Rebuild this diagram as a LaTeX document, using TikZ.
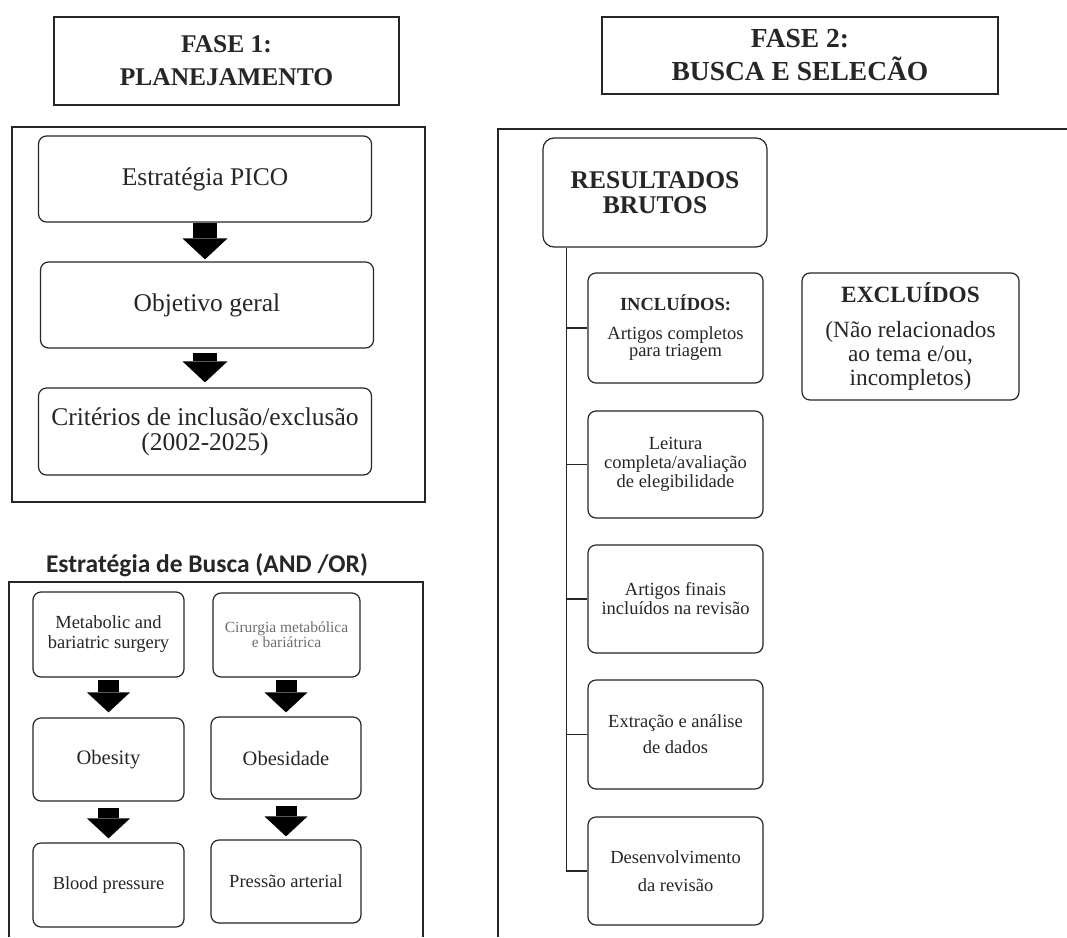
\documentclass[tikz,border=0pt]{standalone}
\usepackage{fontspec}
\setmainfont{Liberation Serif}
\newfontfamily\calibrifont{Carlito}
\usetikzlibrary{arrows.meta, calc}
\definecolor{inkline}{HTML}{262626}
\definecolor{inkgrey}{HTML}{6E6E6E}
\newcommand{\fs}[2]{\fontsize{#1}{#2}\selectfont}

\begin{document}
\begin{tikzpicture}[x=1pt, y=-1pt, text=inkline,
  phase/.style={draw=inkline, line width=1.3pt, align=center},
  frame/.style={draw=inkline, line width=1.3pt},
  stepbox/.style={draw=inkline, line width=1.2pt, rounded corners=8pt,
    align=center, fill=white},
  bigarrow/.style={draw=black, line width=24pt,
    -{Triangle[length=21pt, width=45pt, line width=0pt]}},
  smallarrow/.style={draw=black, line width=21pt,
    -{Triangle[length=20pt, width=43pt, line width=0pt]}},
  link/.style={draw=inkline, line width=1.3pt}]
  \path[use as bounding box, fill=white] (0,0) rectangle (1067,937);

  % phase headers
  \node[phase, minimum width=345, minimum height=88, font=\bfseries\fs{25.5}{33}]
    (fase1) at (226.5,61) {FASE 1:\\PLANEJAMENTO};
  \node[phase, minimum width=396, minimum height=77, font=\bfseries\fs{27.5}{33}]
    (fase2) at (800,55.5) {FASE 2:\\BUSCA E SELECÃO};

  % fase 1: planning
  \draw[frame] (12,127) rectangle (425,502);
  \node[stepbox, minimum width=333, minimum height=86, font=\fs{25.5}{25}]
    (pico) at (205,179) {Estratégia PICO};
  \node[stepbox, minimum width=333, minimum height=86, font=\fs{25.5}{25}]
    (obj) at (207,305) {Objetivo geral};
  \node[stepbox, minimum width=333, minimum height=87, font=\fs{25.5}{25}]
    (crit) at (205,431.5) {Critérios de inclusão/exclusão\\(2002-2025)};
  \draw[bigarrow] (pico.south) -- ([yshift=2pt]pico.south |- obj.north);
  \draw[bigarrow] ([yshift=-4pt]obj.south -| crit.north)
    -- ([yshift=5pt]crit.north);

  % search strategy
  \node[font=\calibrifont\bfseries\fs{25.5}{30}] (busca) at (207,565)
    {Estratégia de Busca (AND /OR)};
  \draw[frame] (9,937) -- (9,582) -- (423,582) -- (423,937);
  \node[stepbox, minimum width=151, minimum height=85, font=\fs{18.5}{20}]
    (meta) at (108.5,634.5) {Metabolic and\\bariatric surgery};
  \node[stepbox, minimum width=147, minimum height=84, font=\fs{15.5}{15},
    text=inkgrey] (cir) at (286.5,635) {Cirurgia metabólica\\e bariátrica};
  \node[stepbox, minimum width=151, minimum height=83, font=\fs{20.5}{24}]
    (obes) at (108.5,759.5) {Obesity};
  \node[stepbox, minimum width=150, minimum height=82, font=\fs{20.5}{24}]
    (obesid) at (286,758) {Obesidade};
  \node[stepbox, minimum width=151, minimum height=84, font=\fs{18.5}{20}]
    (blood) at (108.5,885) {Blood pressure};
  \node[stepbox, minimum width=150, minimum height=83, font=\fs{18.5}{20}]
    (press) at (286,881.5) {Pressão arterial};
  \draw[smallarrow] ([yshift=-2pt]meta.south) -- ([yshift=5pt]obes.north);
  \draw[smallarrow] ([yshift=-6pt]obes.south) -- ([yshift=4pt]blood.north);
  \draw[smallarrow] ([yshift=-2pt]cir.south -| obesid.north)
    -- ([yshift=4pt]obesid.north);
  \draw[smallarrow] ([yshift=-6pt]obesid.south) -- ([yshift=3pt]press.north);

  % fase 2: search and selection
  \draw[frame] (498,937) -- (498,129) -- (1067,129);
  \node[stepbox, rounded corners=11pt, minimum width=224, minimum height=109,
    font=\bfseries\fs{25.5}{25}] (res) at (655,192.5) {RESULTADOS\\BRUTOS};
  \node[stepbox, minimum width=175, minimum height=110, font=\fs{18.5}{17}]
    (incl) at (675.5,328) {\textbf{INCLUÍDOS:}\\[12pt]Artigos completos\\para triagem};
  \node[stepbox, minimum width=175, minimum height=107, font=\fs{18.5}{19}]
    (leit) at (675.5,464.5) {Leitura\\completa/avaliação\\de elegibilidade};
  \node[stepbox, minimum width=175, minimum height=108, font=\fs{18.5}{19}]
    (final) at (675.5,599) {Artigos finais\\incluídos na revisão};
  \node[stepbox, minimum width=175, minimum height=109, font=\fs{18.5}{26}]
    (extr) at (675.5,734.5) {Extração e análise\\de dados};
  \node[stepbox, minimum width=175, minimum height=108, font=\fs{18.5}{28}]
    (desenv) at (675.5,871) {Desenvolvimento\\da revisão};
  \node[stepbox, minimum width=217, minimum height=127, font=\fs{23.3}{24}]
    (excl) at (910.5,336.5)
    {\textbf{EXCLUÍDOS}\\[11pt](Não relacionados\\ao tema e/ou,\\incompletos)};

  \coordinate (stemtop) at ([xshift=24pt]res.south west);
  \draw[link] (stemtop) |- (desenv.west);
  \foreach \b in {incl,leit,final,extr}
    \draw[link] (stemtop |- \b.west) -- (\b.west);
\end{tikzpicture}
\end{document}
